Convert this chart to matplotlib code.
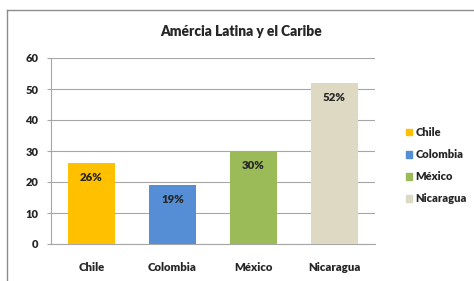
import matplotlib.pyplot as plt
from matplotlib.patches import Patch
from matplotlib.lines import Line2D

paises = ["Chile", "Colombia", "México", "Nicaragua"]
valores = [26, 19, 30, 52]
etiquetas = ["26%", "19%", "30%", "52%"]
colores = ["#FFC000", "#558ED5", "#9BBB59", "#DDD9C3"]

plt.rcParams['font.family'] = ['Lato', 'DejaVu Sans']
peso = 'heavy'

fig = plt.figure(figsize=(4.74, 2.81), dpi=100)
ax = fig.add_axes([51/474, 1-244/281, 324/474, 186/281])

x = range(len(paises))
ax.bar(x, valores, width=0.57, color=colores, zorder=3)
for i, v in enumerate(valores):
    ax.text(i, v - 4.6, etiquetas[i], ha='center', va='center',
            fontsize=8.2, fontweight=peso, color='#262626', zorder=4)

ax.set_xlim(-0.5, 3.5)
ax.set_ylim(0, 60)
ax.set_yticks(range(0, 61, 10))
ax.set_xticks(list(x))
ax.set_xticklabels(paises)
ax.grid(axis='y', color='#A6A6A6', linewidth=0.8, zorder=0)
for s in ['top', 'right']:
    ax.spines[s].set_visible(False)
for s in ['left', 'bottom']:
    ax.spines[s].set_color('#A6A6A6')
ax.tick_params(axis='y', length=3, color='#A6A6A6', labelsize=8, pad=6,
               labelcolor='#262626')
ax.tick_params(axis='x', length=0, labelsize=8.2, pad=13, labelcolor='#262626')
for t in ax.get_xticklabels() + ax.get_yticklabels():
    t.set_fontweight(peso)

fig.text(241/474, 1-31/281, "Amércia Latina y el Caribe", ha='center', va='center',
         fontsize=9.9, fontweight=peso, color='#262626')

handles = [Patch(color=c, label=p) for p, c in zip(paises, colores)]
fig.legend(handles=handles, loc='upper left', bbox_to_anchor=(396/474, 1-117/281),
           frameon=False, handlelength=0.55, handleheight=0.55, handletextpad=0.3,
           labelspacing=1.0, prop={'size': 8, 'weight': peso},
           labelcolor='#262626')

# marco del gráfico
fig.add_artist(Line2D([7/474, 1], [1-10/281, 1-10/281], color='#8C8C8C', linewidth=1))
fig.add_artist(Line2D([7/474, 7/474], [0, 1-10/281], color='#8C8C8C', linewidth=1))

fig.savefig("out.png", dpi=100)
